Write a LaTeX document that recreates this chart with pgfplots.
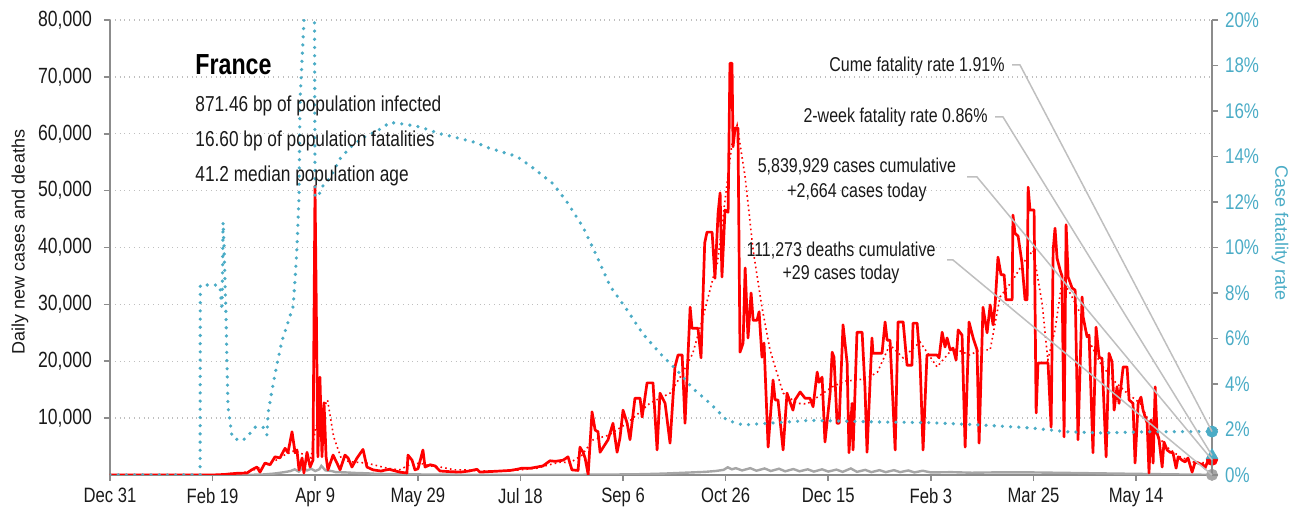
\documentclass[border=0pt]{standalone}
\usepackage{pgfplots}
\pgfplotsset{compat=1.18}
\usepackage{fontspec}
\setmainfont{Liberation Sans}[FakeStretch=0.8]
\newfontfamily\widefont{Liberation Sans}
\definecolor{cfrblue}{HTML}{4BACC6}
\definecolor{axgray}{HTML}{8C8C8C}
\definecolor{dgray}{HTML}{A6A6A6}
\definecolor{gridgray}{HTML}{BFBFBF}
\definecolor{txt}{HTML}{1A1A1A}

\begin{document}
\begin{tikzpicture}[x=1pt,y=1pt]
\path[use as bounding box] (0,0) rectangle (645.5,256.5);
\begin{axis}[
  at={(55pt,19pt)}, anchor=south west,
  scale only axis, width=551pt, height=227.5pt,
  xmin=0, xmax=537, ymin=0, ymax=80000,
  axis x line*=bottom, axis y line*=left,
  axis line style={-, axgray, line width=1pt},
  xtick={0,50,...,500},
  xticklabels={Dec 31,Feb 19,Apr 9,May 29,Jul 18,Sep 6,Oct 26,Dec 15,Feb 3,Mar 25,May 14},
  ytick={10000,20000,30000,40000,50000,60000,70000,80000},
  yticklabels={{10,000},{20,000},{30,000},{40,000},{50,000},{60,000},{70,000},{80,000}},
  ymajorgrids, grid style={gridgray, dotted, line width=0.7pt},
  tick align=outside, major tick length=3pt,
  tick style={axgray, line width=0.8pt},
  xticklabel style={font=\fontsize{10.4}{12}\selectfont, text=txt},
  yticklabel style={font=\fontsize{11}{12}\selectfont, text=txt, xshift=-2.5pt},
  scaled y ticks=false,
]
% daily deaths (gray)
\addplot[dgray, line width=1.2pt] coordinates {
(0,0)(60,0)(70,50)(75,100)(80,250)(85,500)(88,700)(90,1000)(92,600)(94,1300)(96,800)(98,1100)(100,700)(102,1000)(103,1600)(105,800)(108,700)(110,500)(115,450)(120,350)(125,300)(130,200)(140,150)(150,100)(170,50)(200,30)(230,50)(250,100)(260,150)(270,250)(280,400)(290,550)(295,700)(299,900)(301,1350)(303,1000)(305,1200)(308,800)(312,1200)(315,750)(319,1150)(322,700)(326,1100)(329,650)(333,1050)(336,650)(340,1000)(343,600)(347,1000)(350,600)(354,950)(357,550)(361,1150)(364,550)(368,900)(371,500)(375,850)(378,500)(382,850)(385,500)(389,800)(392,450)(396,750)(400,450)(410,500)(420,400)(430,450)(440,450)(450,450)(460,400)(470,350)(480,300)(490,250)(500,200)(510,150)(520,100)(530,60)(537,29)
};
% 7-day average cases (red dotted)
\addplot[red, line width=0.8pt, dash pattern=on 0.8pt off 1.6pt] coordinates {
(0,0)(55,0)(60,150)(65,400)(70,900)(75,1600)(80,2400)(85,3500)(90,4300)(95,3500)(98,3000)(100,8000)(103,11000)(106,13200)(109,6700)(113,2600)(118,2300)(125,2100)(135,1200)(141,900)(146,1800)(151,2100)(156,1600)(161,1400)(168,900)(174,900)(180,700)(190,700)(200,900)(208,1200)(214,1800)(220,2300)(224,2100)(230,3500)(235.4,6200)(243,7000)(252,9100)(258,11000)(263,12600)(268,13500)(273,14400)(279,17900)(284,21400)(289,27800)(294,34800)(296,37300)(300.7,51300)(303,58000)(305.6,61500)(309.5,52400)(313.4,39500)(317.7,29500)(321.6,22000)(328,14400)(334.8,12600)(339.7,12500)(346,14000)(352,15500)(358,16500)(364,16700)(369,17000)(374,18100)(380,22900)(386.5,20600)(394.7,23400)(403,19000)(410.8,22300)(419,21100)(424,22000)(428.9,22000)(433.7,31300)(440,34300)(445,37300)(449.8,39500)(454.2,30200)(457,20200)(460.5,25500)(464,34300)(467.8,32000)(472.7,28500)(477.6,23200)(482.5,19700)(488.8,16700)(495.6,14400)(502,12600)(508.3,7900)(515,4900)(521.4,3200)(527.8,2300)(534.6,2100)(537,2000)
};
% daily cases (red)
\addplot[red, line width=1.35pt, line join=round] coordinates {
(0,0)(50,0)(56,100)(58.5,200)(62,300)(66.8,350)(69,900)(71.6,1400)(73.1,500)(75.5,2100)(78,1800)(80.4,3200)(82.8,3000)(85.3,4700)(86.7,3900)(88.7,7600)(90.2,3900)(91.1,4400)(92.1,900)(93.6,3000)(94.5,350)(96,4000)(97.5,1400)(98.9,2600)(99.9,50800)(101.3,3200)(102.3,17200)(103.3,3200)(104.3,12700)(105.3,3200)(106.2,900)(108.7,3500)(110.6,2100)(112.1,900)(114.5,3500)(116,3000)(117.9,1400)(120.4,3000)(123.3,4500)(125.2,1400)(128.2,900)(132,700)(136,1000)(141.3,500)(144.7,350)(145.2,3500)(147.2,2600)(148.6,900)(150.1,1100)(152.5,4400)(153.5,1400)(156,1800)(158.4,1600)(160.8,700)(165,600)(170.6,500)(175,700)(178.8,1000)(180.3,500)(185,600)(190.1,700)(195,800)(198.3,1000)(200.8,1200)(205,1200)(208.1,1400)(211,1600)(214.4,2500)(217,2400)(220.8,2600)(223.2,3200)(225.1,900)(228.1,800)(229,4900)(230.5,4000)(231.5,3000)(233,100)(234.9,11100)(236.4,7900)(237.8,7600)(238.8,4000)(242.7,6200)(245.1,9100)(247.1,4000)(248.5,6500)(250,11400)(252,9100)(253.4,6200)(255.8,13500)(258.3,13500)(259.3,10200)(261.7,16200)(264.6,16200)(266.6,4400)(268,14400)(270.5,12600)(272.9,5600)(275.3,19000)(276.8,21100)(278.8,21100)(280.2,9100)(282.7,29500)(283.6,25800)(286.5,25800)(288,20600)(289.8,40800)(290.9,42700)(293.4,42700)(294.8,34600)(296.3,46000)(297.3,49600)(298.2,34800)(299.7,46600)(301.2,46200)(302.1,72400)(303.1,72400)(303.6,57700)(304.6,61000)(306,61000)(307,21600)(308.5,23200)(309.5,36400)(310.9,24100)(312.4,32000)(313.4,27200)(315.3,27200)(316.3,28700)(317.7,20700)(318.7,23200)(320.7,4900)(323.1,16700)(324.1,13200)(325.5,13200)(328,4400)(329.9,14400)(331.4,12800)(332.8,11400)(333.8,13200)(336.3,14600)(338.7,13500)(341.1,13500)(342.6,12000)(344.6,18100)(345.5,16300)(347,17200)(348.4,5800)(350.9,14400)(351.9,21600)(352.8,20700)(354.3,9100)(355.3,9100)(357.2,26400)(359.2,19700)(360.1,3900)(361.6,12600)(362.1,4400)(364,25100)(366.5,25100)(367.9,15300)(368.9,4000)(371.3,24100)(371.8,21400)(375.2,21400)(376.2,21400)(377.7,26900)(378.7,23700)(380.1,23700)(382.6,4400)(384,26900)(386.5,26900)(388.4,19300)(390.8,19300)(391.3,26700)(393.3,26700)(394.7,20200)(396.2,4400)(398.1,21100)(403,21100)(404,20600)(405.5,25100)(406.9,22500)(407.9,24100)(409.4,22000)(410.8,22300)(412.3,20200)(413.3,25500)(415.2,24600)(416.7,4900)(418.6,26900)(420.6,24100)(422.5,22000)(423.5,5600)(425.4,29500)(427.4,25000)(428.9,29900)(430.3,26400)(431.3,29900)(432.7,38300)(434.2,35200)(435.7,35200)(436.6,30800)(439.6,30800)(440,45700)(441,42500)(442.5,42000)(444.4,37300)(445.9,30800)(446.9,30800)(447.4,50600)(448.3,46600)(450.3,46600)(451.3,10900)(452.2,19700)(457.1,19700)(458.6,8400)(459.6,39500)(460.5,43400)(461.5,38100)(463,36000)(463.9,35000)(464.9,6700)(465.9,44000)(466.9,34800)(468.8,32900)(470.3,32500)(471.7,6200)(473.7,31300)(474.2,27800)(476.1,24300)(477.1,24600)(479,3900)(480.5,26000)(482,20700)(483.4,20500)(485.4,3200)(486.8,21400)(488.3,19900)(489.3,11400)(490.7,15500)(491.7,12600)(493.7,19000)(495.6,19000)(496.6,13200)(498.5,12600)(499.5,2100)(501,12600)(502.4,13700)(503.4,11400)(505.4,9100)(506.3,350)(507.3,9700)(508.3,2100)(509.3,15500)(510.2,7400)(511.2,6200)(512.7,1400)(513.6,5800)(515.1,4400)(516.6,4000)(518,3900)(519.5,1200)(520.5,3200)(522.4,2600)(523.9,2300)(525.3,3000)(527.3,500)(528.8,2300)(530.2,2100)(532.7,1800)(533.6,1200)(535.1,2600)(537,2664)
};
% today markers
\addplot[only marks, mark=*, mark size=2.8pt, color=dgray] coordinates {(537,29)};
\addplot[only marks, mark=*, mark size=2.8pt, color=red] coordinates {(537,2664)};
\coordinate (gc) at (537,29);
\coordinate (rc) at (537,2664);
\end{axis}
\begin{axis}[
  at={(55pt,19pt)}, anchor=south west,
  scale only axis, width=551pt, height=227.5pt,
  xmin=0, xmax=537, ymin=0, ymax=20,
  axis x line=none, axis y line*=right,
  axis line style={-, axgray, line width=1pt},
  ytick={0,2,4,6,8,10,12,14,16,18,20},
  yticklabels={0\%,2\%,4\%,6\%,8\%,10\%,12\%,14\%,16\%,18\%,20\%},
  tick align=outside, major tick length=3pt,
  tick style={axgray, line width=0.8pt},
  yticklabel style={font=\fontsize{10.6}{12}\selectfont, text=cfrblue},
]
\addplot[cfrblue, line width=1.8pt, line cap=round, dash pattern=on 0pt off 4.1pt] coordinates {
(0,0)(43.9,0)(44,8.35)(52.6,8.35)(53.6,8.26)(54.6,7.25)(55.1,11.1)(55.6,10.0)(56,8.6)(56.5,7.1)(57,4.9)(57.5,3.0)(59.5,1.67)(62.4,1.54)(64.3,1.5)(66.8,1.67)(70.7,2.1)(73.1,2.07)(74.6,2.1)(76.5,1.76)(77,2.7)(78.9,3.7)(81.4,4.9)(83.8,5.9)(86.7,6.7)(89.2,7.4)(90.2,8.6)(91.1,10.0)(92.1,12.2)(92.6,16.5)(94.5,19.9)(97,32)(99.6,22)(99.9,12.3)(101.3,12.2)(103.3,12.66)(107.2,13.05)(112.1,13.9)(117,14.4)(122.8,14.8)(131.6,15.2)(136.5,15.5)(144.7,15.4)(151,15.3)(160.8,15.0)(165.7,14.9)(178.8,14.6)(183.7,14.4)(198.3,14.0)(206.1,13.5)(215.9,12.8)(222.7,12.0)(230.5,10.9)(237.3,9.6)(243.7,8.3)(252,7.25)(259.7,6.2)(268,5.35)(276.3,4.6)(284.1,3.8)(292.4,3.15)(300.7,2.4)(308.5,2.2)(325,2.3)(341.1,2.4)(375.2,2.33)(399.6,2.3)(424,2.2)(448.3,2.07)(466.4,1.9)(482.5,1.85)(506.8,1.9)(537,1.91)
};
\addplot[only marks, mark=*, mark size=2.8pt, color=cfrblue] coordinates {(537,1.91)};
\addplot[only marks, mark=triangle*, mark size=3.3pt, color=cfrblue] coordinates {(537,0.86)};
\coordinate (bc) at (537,1.91);
\coordinate (tc) at (537,0.86);
\end{axis}
% leader lines
\draw[gridgray, line width=0.75pt] (506,224)--(510,224)--(bc);
\draw[gridgray, line width=0.75pt] (497.5,198)--(501.5,198)--(tc);
\draw[gridgray, line width=0.75pt] (483.5,168)--(488.5,168)--(rc);
\draw[gridgray, line width=0.75pt] (473.5,126.5)--(476.5,126.5)--(gc);
% title block
\node[anchor=base west, inner sep=0, text=black, font=\bfseries\fontsize{14.5}{16}\selectfont] at (97.5,219) {France};
\node[anchor=base west, inner sep=0, text=txt, font=\fontsize{10.8}{13}\selectfont] at (97.5,200.5) {871.46 bp of population infected};
\node[anchor=base west, inner sep=0, text=txt, font=\fontsize{10.8}{13}\selectfont] at (97.5,183) {16.60 bp of population fatalities};
\node[anchor=base west, inner sep=0, text=txt, font=\fontsize{10.8}{13}\selectfont] at (97.5,165.5) {41.2 median population age};
% annotations
\node[anchor=base east, inner sep=0, text=txt, font=\fontsize{10}{12}\selectfont] at (502.5,220.5) {Cume fatality rate 1.91\%};
\node[anchor=base east, inner sep=0, text=txt, font=\fontsize{10}{12}\selectfont] at (494,195) {2-week fatality rate 0.86\%};
\node[anchor=base, inner sep=0, text=txt, font=\fontsize{10}{12}\selectfont] at (428.5,170) {5,839,929 cases cumulative};
\node[anchor=base, inner sep=0, text=txt, font=\fontsize{10}{12}\selectfont] at (428.5,157.5) {+2,664 cases today};
\node[anchor=base, inner sep=0, text=txt, font=\fontsize{10}{12}\selectfont] at (420.5,128) {111,273 deaths cumulative};
\node[anchor=base, inner sep=0, text=txt, font=\fontsize{10}{12}\selectfont] at (420.5,116.5) {+29 cases today};
% axis titles
\node[rotate=90, inner sep=0, text=txt, font=\widefont\fontsize{9}{11}\selectfont] at (10,135.5) {Daily new cases and deaths};
\node[rotate=-90, inner sep=0, text=cfrblue, font=\widefont\fontsize{9}{11}\selectfont] at (640,140) {Case fatality rate};
\end{tikzpicture}
\end{document}
